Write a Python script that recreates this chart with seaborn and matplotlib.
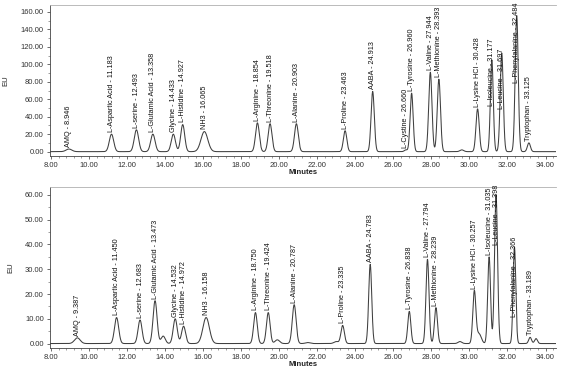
import matplotlib
matplotlib.use("Agg")
import matplotlib.pyplot as plt
import numpy as np
import pandas as pd
import seaborn as sns
from matplotlib.ticker import MultipleLocator, FormatStrFormatter

sns.set_style("ticks")
plt.rcParams["font.family"] = ["Liberation Sans Narrow", "Liberation Sans", "DejaVu Sans"]

# Peak tables (retention time in min, height in EU, peak sigma in min)
# "" = small unlabelled bump
top_names = ["AMQ", "L-Aspartic Acid", "L-serine", "L-Glutamic Acid", "Glycine", "L-Histidine",
             "NH3", "L-Arginine", "L-Threonine", "L-Alanine", "L-Proline", "AABA", "L-Cystine",
             "L-Tyrosine", "L-Valine", "L-Methionine", "", "L-Lysine HCl", "L-Isoleucine",
             "L-Leucine", "L-Phenylalanine", "Tryptophan"]
top_times = [8.946, 11.183, 12.493, 13.358, 14.433, 14.927, 16.065, 18.854, 19.518, 20.903,
             23.463, 24.913, 26.660, 26.960, 27.944, 28.393, 29.600, 30.428, 31.177, 31.697,
             32.484, 33.125]
top_heights = [3, 20, 25, 20, 20, 31, 23, 33, 32, 32, 24, 69, 2, 67, 91, 83, 2, 49, 105, 113,
               156, 10]
top_widths = [0.15, 0.115, 0.115, 0.115, 0.11, 0.105, 0.18, 0.1, 0.1, 0.1, 0.09, 0.085, 0.08,
              0.08, 0.085, 0.085, 0.1, 0.085, 0.075, 0.08, 0.08, 0.08]

bot_names = ["AMQ", "L-Aspartic Acid", "L-serine", "L-Glutamic Acid", "", "Glycine", "L-Histidine",
             "NH3", "L-Arginine", "L-Threonine", "", "L-Alanine", "", "", "L-Proline", "AABA",
             "L-Tyrosine", "L-Valine", "L-Methionine", "", "L-Lysine HCl", "", "L-Isoleucine",
             "L-Leucine", "L-Phenylalanine", "Tryptophan", ""]
bot_times = [9.387, 11.450, 12.683, 13.473, 13.900, 14.532, 14.972, 16.158, 18.750, 19.424,
             19.900, 20.787, 21.500, 23.000, 23.335, 24.783, 26.838, 27.794, 28.239, 29.500,
             30.257, 30.500, 31.035, 31.398, 32.366, 33.189, 33.500]
bot_heights = [2.3, 10.5, 9.5, 17.3, 3, 10, 7, 10.5, 12.5, 12.5, 1.5, 15.7, 0.4, 0.8, 7.3, 32,
               13, 34, 14.5, 0.8, 21, 4, 35, 60, 39, 2.5, 2]
bot_widths = [0.15, 0.11, 0.105, 0.105, 0.11, 0.105, 0.105, 0.17, 0.095, 0.095, 0.12, 0.1, 0.12,
              0.12, 0.09, 0.08, 0.08, 0.08, 0.08, 0.1, 0.08, 0.12, 0.075, 0.08, 0.07, 0.075, 0.075]

x_min, x_max = 7.95, 34.55


def trace(times, heights, widths):
    t = np.linspace(x_min, x_max, 4000)
    y = np.zeros_like(t)
    for rt, h, w in zip(times, heights, widths):
        y += h * np.exp(-0.5 * ((t - rt) / w) ** 2)
    return pd.DataFrame({"Minutes": t, "EU": y})


def draw_panel(ax, names, times, heights, widths, ylim, ystep, pinned):
    df = trace(times, heights, widths)
    sns.lineplot(data=df, x="Minutes", y="EU", ax=ax, color="#3f3f3f", linewidth=0.75)

    for name, rt, h in zip(names, times, heights):
        if not name:
            continue
        y = pinned.get(name, h)
        ax.annotate(f"{name} - {rt:.3f}", xy=(rt, y), xytext=(0, 1.5), textcoords="offset points",
                    rotation=90, ha="center", va="bottom", fontsize=5.2, color="#111111")

    ax.set_xlim(x_min, x_max)
    ax.set_ylim(*ylim)
    ax.xaxis.set_major_locator(MultipleLocator(2))
    ax.xaxis.set_minor_locator(MultipleLocator(0.4))
    ax.yaxis.set_major_locator(MultipleLocator(ystep))
    ax.yaxis.set_minor_locator(MultipleLocator(ystep / 2))
    ax.xaxis.set_major_formatter(FormatStrFormatter("%.2f"))
    ax.yaxis.set_major_formatter(FormatStrFormatter("%.2f"))
    ax.tick_params(which="major", length=2.5, width=0.5, labelsize=5.5, pad=2, colors="#333333")
    ax.tick_params(which="minor", length=1.5, width=0.4, colors="#555555")
    ax.set_xlabel("Minutes", fontsize=5.5, labelpad=0, color="#222222", fontweight="bold")
    ax.set_ylabel("EU", fontsize=5.5, labelpad=8, color="#222222")
    for side in ["left", "bottom"]:
        ax.spines[side].set_linewidth(0.6)
        ax.spines[side].set_color("#444444")
    ax.spines["top"].set_linewidth(0.6)
    ax.spines["top"].set_color("#b0b0b0")
    ax.spines["right"].set_visible(False)


fig = plt.figure(figsize=(5.61, 3.70), dpi=100)
ax1 = fig.add_axes([50 / 561, 1 - 156 / 370, 506 / 561, 151 / 370])
ax2 = fig.add_axes([50 / 561, 1 - 348 / 370, 506 / 561, 161 / 370])

draw_panel(ax1, top_names, top_times, top_heights, top_widths, (-5, 168), 20,
           {"L-Isoleucine": 50, "L-Leucine": 47, "L-Phenylalanine": 76})
draw_panel(ax2, bot_names, bot_times, bot_heights, bot_widths, (-1.8, 63.2), 10,
           {"L-Leucine": 39, "L-Phenylalanine": 10})

fig.savefig("out.png", dpi=100)
